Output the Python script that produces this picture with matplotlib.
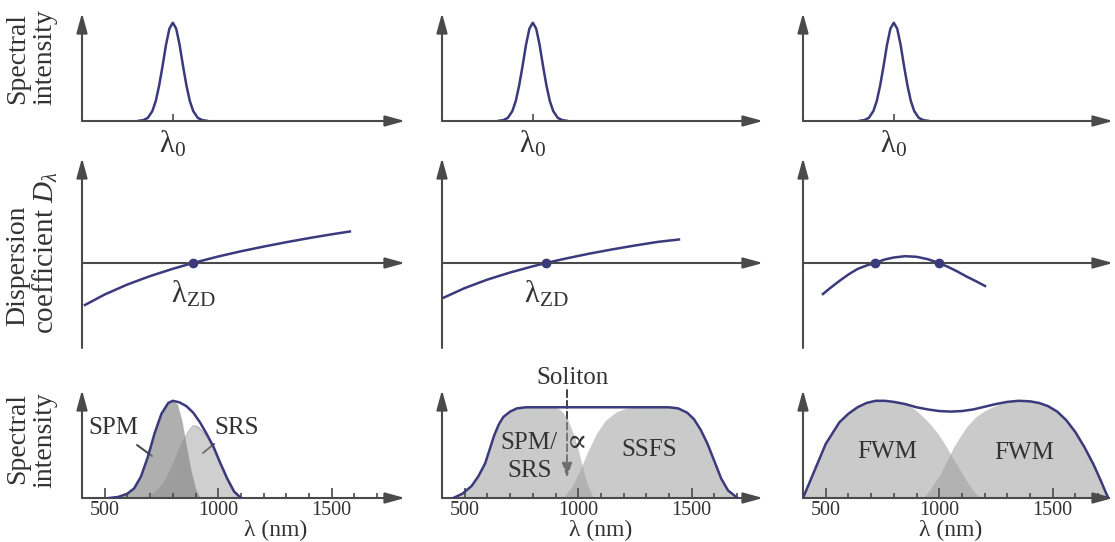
import matplotlib
matplotlib.use("Agg")
import matplotlib.pyplot as plt

plt.rcParams['font.family'] = ['Liberation Serif', 'DejaVu Serif']
plt.rcParams['mathtext.fontset'] = 'custom'
plt.rcParams['mathtext.rm'] = 'Liberation Serif'
plt.rcParams['mathtext.it'] = 'Liberation Serif:italic'
plt.rcParams['mathtext.bf'] = 'Liberation Serif:bold'

# ---------------- data (arbitrary intensity units) -------------
# top row: input pulse spectrum (same for all three columns)
lam_pulse = [650, 670, 690, 710, 725, 740, 755, 770, 785, 800, 815, 830, 845, 860, 875, 890, 910, 930, 950]
int_pulse = [0.002, 0.008, 0.029, 0.092, 0.185, 0.33, 0.51, 0.705, 0.855, 0.91, 0.855, 0.705, 0.51, 0.33, 0.185,
             0.092, 0.029, 0.008, 0.002]
lam0 = 800

# middle row: dispersion coefficient (arbitrary units)
lam_D1 = [413, 500, 600, 700, 800, 889, 1000, 1100, 1200, 1300, 1400, 1500, 1580]
D1 = [-42, -31.5, -21.5, -13.1, -5.8, 0, 6.5, 11.7, 16.4, 20.8, 24.9, 28.7, 31.5]
zd1 = [889]
lam_D2 = [404, 500, 600, 700, 800, 858, 950, 1050, 1150, 1250, 1350, 1444]
D2 = [-35, -25.1, -16.6, -9.5, -3.3, 0, 4.7, 9.4, 13.6, 17.5, 21.1, 23.5]
zd2 = [858]
lam_D3 = [488, 520, 560, 600, 640, 680, 717, 760, 800, 850, 900, 950, 999, 1040, 1080, 1120, 1160, 1202]
D3 = [-31, -25, -18, -11.5, -6, -2.5, 0, 3.5, 5.5, 6.8, 6.2, 3.8, 0, -4, -8.5, -13.5, -18, -23]
zd3 = [717, 999]

# bottom row, column 1
lam_env1 = [520, 560, 600, 630, 660, 690, 720, 750, 780, 800, 830, 860, 890, 920, 950, 980, 1010, 1040, 1070, 1100]
env1 = [0, 0.01, 0.04, 0.09, 0.20, 0.38, 0.60, 0.78, 0.88, 0.90, 0.885, 0.85, 0.79, 0.70, 0.59, 0.47, 0.32, 0.18, 0.06, 0]
lam_spm1 = [520, 560, 600, 630, 660, 690, 720, 750, 780, 800, 820, 840, 860, 880, 900, 920]
spm1 = [0, 0.01, 0.04, 0.09, 0.20, 0.38, 0.60, 0.78, 0.88, 0.90, 0.87, 0.72, 0.48, 0.26, 0.09, 0]
lam_srs1 = [680, 720, 760, 800, 840, 870, 890, 910, 930, 950, 980, 1010, 1040, 1070, 1100]
srs1 = [0, 0.04, 0.13, 0.30, 0.50, 0.62, 0.67, 0.66, 0.62, 0.57, 0.46, 0.31, 0.16, 0.05, 0]

# bottom row, column 2
lam_env2 = [450, 490, 530, 560, 590, 610, 630, 650, 670, 700, 730, 770, 1400, 1440, 1480, 1510, 1540, 1570, 1600, 1630, 1660, 1690, 1700]
env2 = [0, 0.04, 0.11, 0.20, 0.32, 0.45, 0.58, 0.68, 0.75, 0.80, 0.83, 0.84, 0.84, 0.83, 0.79, 0.73, 0.63, 0.50, 0.34, 0.18, 0.07, 0.02, 0]
lam_left2 = [450, 490, 530, 560, 590, 610, 630, 650, 670, 700, 730, 770, 905, 930, 955, 980, 1000, 1020, 1040, 1060, 1070]
left2 = [0, 0.04, 0.11, 0.20, 0.32, 0.45, 0.58, 0.68, 0.75, 0.80, 0.83, 0.84, 0.84, 0.80, 0.72, 0.59, 0.45, 0.28, 0.13, 0.03, 0]
lam_right2 = [934, 970, 1008, 1040, 1081, 1120, 1170, 1210, 1243, 1400, 1440, 1480, 1510, 1540, 1570, 1600, 1630, 1660, 1690, 1700]
right2 = [0, 0.10, 0.26, 0.42, 0.60, 0.72, 0.80, 0.83, 0.84, 0.84, 0.83, 0.79, 0.73, 0.63, 0.50, 0.34, 0.18, 0.07, 0.02, 0]

# bottom row, column 3
lam_env3 = [400, 420, 440, 460, 480, 500, 530, 560, 600, 640, 680, 720, 760, 800, 850, 900, 950, 1000, 1050,
            1100, 1150, 1200, 1250, 1300, 1350, 1400, 1440, 1480, 1520, 1560, 1600, 1640, 1680, 1710, 1730, 1745]
env3 = [0, 0.10, 0.20, 0.30, 0.40, 0.50, 0.60, 0.70, 0.78, 0.84, 0.88, 0.90, 0.90, 0.89, 0.87, 0.84, 0.82, 0.805, 0.80,
        0.805, 0.82, 0.845, 0.87, 0.89, 0.90, 0.895, 0.88, 0.85, 0.80, 0.72, 0.61, 0.47, 0.31, 0.17, 0.07, 0]
lam_fwmL = [400, 420, 440, 460, 480, 500, 530, 560, 600, 640, 680, 720, 760, 800, 850, 880, 910, 940, 970, 1000,
            1030, 1060, 1090, 1120, 1150, 1180]
fwmL = [0, 0.10, 0.20, 0.30, 0.40, 0.50, 0.60, 0.70, 0.78, 0.84, 0.88, 0.90, 0.90, 0.89, 0.87, 0.84, 0.79, 0.73, 0.66, 0.58,
        0.48, 0.37, 0.27, 0.16, 0.07, 0]
lam_fwmR = [930, 960, 1004, 1030, 1063, 1092, 1121, 1160, 1194, 1230, 1268, 1300, 1350, 1400, 1440, 1480, 1520, 1560,
            1600, 1640, 1680, 1710, 1730, 1745]
fwmR = [0, 0.08, 0.22, 0.33, 0.47, 0.57, 0.66, 0.75, 0.80, 0.84, 0.87, 0.89, 0.90, 0.895, 0.88, 0.85, 0.80, 0.72,
        0.61, 0.47, 0.31, 0.17, 0.07, 0]

major_ticks = [500, 1000, 1500]
minor_ticks = [600, 700, 800, 900, 1100, 1200, 1300, 1400, 1600, 1700]
major_labels = ['500', '1000', '1500']

# ---------------- styling ----------------
W, H = 1115, 542
AXC = '#4a4a4a'
LINEC = '#3b3a7c'
TXTC = '#333333'
PX_PER_NM = 0.227
col_x0 = [82, 442, 803]
col_tip = [405, 763, 1113]

fig = plt.figure(figsize=(W / 100, H / 100), dpi=100)
fig.patch.set_facecolor('white')


def px_axes(l, r, t, b):
    return fig.add_axes([l / W, 1 - b / H, (r - l) / W, (b - t) / H])


def arrow(ax, p0, p1):
    ax.annotate('', xy=p1, xytext=p0, xycoords='axes fraction', textcoords='axes fraction',
                arrowprops=dict(arrowstyle='-|>,head_length=1.2,head_width=0.33', mutation_scale=10,
                                color=AXC, lw=1.5, shrinkA=0, shrinkB=0), annotation_clip=False)


def clean(ax):
    for s in ax.spines.values():
        s.set_visible(False)
    ax.set_yticks([])
    ax.patch.set_alpha(0)


def ftext(x, y, s, size, **kw):
    fig.text(x / W, 1 - y / H, s, ha=kw.pop('ha', 'center'), va=kw.pop('va', 'center'),
             fontsize=size, color=TXTC, **kw)


rows = {'top': (13, 121), 'mid': (158, 348), 'bot': (390, 498)}

D_sets = [(lam_D1, D1, zd1), (lam_D2, D2, zd2), (lam_D3, D3, zd3)]
bottom_sets = [
    [(lam_srs1, srs1, '#a0a0a0', 0.5), (lam_spm1, spm1, '#7f7f7f', 0.62)],
    [(lam_left2, left2, '#a0a0a0', 0.55), (lam_right2, right2, '#a0a0a0', 0.55)],
    [(lam_fwmL, fwmL, '#a0a0a0', 0.55), (lam_fwmR, fwmR, '#a0a0a0', 0.55)],
]
envs = [(lam_env1, env1), (lam_env2, env2), (lam_env3, env3)]

for c in range(3):
    x0, tip = col_x0[c], col_tip[c]
    xmax = 400 + (tip - x0) / PX_PER_NM

    # --- top row
    t, b = rows['top']
    ax = px_axes(x0, tip, t, b)
    clean(ax)
    ax.set_xlim(400, xmax)
    ax.set_ylim(0, 1)
    ax.plot(lam_pulse, int_pulse, color=LINEC, lw=1.8, solid_joinstyle='round')
    ax.set_xticks([lam0], labels=['λ$_0$'])
    ax.tick_params(axis='x', direction='in', length=5, width=1.2, color=AXC, pad=6,
                   labelsize=22, labelcolor=TXTC)
    arrow(ax, (0, 0), (1, 0))
    arrow(ax, (0, 0), (0, 1))

    # --- middle row
    t, b = rows['mid']
    ax = px_axes(x0, tip, t, b)
    clean(ax)
    ax.set_xticks([])
    ax.set_xlim(400, xmax)
    ax.set_ylim(-(b - 263), 263 - t)
    lam_D, Dv, zds = D_sets[c]
    ax.plot(lam_D, Dv, color=LINEC, lw=1.8, zorder=3)
    ax.plot(zds, [0] * len(zds), 'o', color=LINEC, ms=6, zorder=4)
    y0 = (b - 263) / (b - t)
    arrow(ax, (0, y0), (1, y0))
    arrow(ax, (0, 0), (0, 1))
    if c < 2:
        ax.annotate('λ$_{\\mathrm{ZD}}$', xy=(zds[0], 0), xytext=(0, -31), textcoords='offset pixels',
                    ha='center', va='center', fontsize=22, color=TXTC)

    # --- bottom row
    t, b = rows['bot']
    ax = px_axes(x0, tip, t, b)
    clean(ax)
    ax.set_xlim(400, xmax)
    ax.set_ylim(0, 1)
    for lam, v, col, al in bottom_sets[c]:
        ax.fill_between(lam, 0, v, color=col, alpha=al, lw=0)
    if c == 0:
        ax.plot(lam_srs1, srs1, color='#8a8a8a', lw=0.8, alpha=0.6)
    lam_e, e = envs[c]
    ax.plot(lam_e, e, color=LINEC, lw=1.8, solid_joinstyle='round', zorder=4)
    ax.set_xticks(major_ticks, labels=major_labels)
    ax.set_xticks(minor_ticks, minor=True)
    ax.tick_params(axis='x', which='major', direction='in', length=7.5, width=1.2, color=AXC, pad=2.5,
                   labelsize=14.5, labelcolor=TXTC)
    ax.tick_params(axis='x', which='minor', direction='in', length=3.8, width=1.2, color=AXC)
    arrow(ax, (0, 0), (1, 0))
    arrow(ax, (0, 0), (0, 1))

# axis labels
ftext(18, 58, 'Spectral', 20, rotation=90)
ftext(45, 57, 'intensity', 20, rotation=90)
ftext(18, 266, 'Dispersion', 20, rotation=90)
ftext(45, 252, 'coefficient $D_\\lambda$', 21, rotation=90)
ftext(18, 438, 'Spectral', 20, rotation=90)
ftext(45, 440, 'intensity', 20, rotation=90)

for xc in (276, 601, 951):
    ftext(xc, 541, 'λ (nm)', 17, va='bottom')

# process labels
ftext(113, 428, 'SPM', 18)
ftext(237, 428, 'SRS', 18)
ftext(529, 443, 'SPM/', 18)
ftext(577, 443, '∝', 22)
ftext(530, 471, 'SRS', 18)
ftext(649, 450, 'SSFS', 18)
ftext(573, 378, 'Soliton', 18)
ftext(887, 452, 'FWM', 18)
ftext(1024, 453, 'FWM', 18)


def P(x, y):
    return (x, H - y)


ann = dict(xycoords='figure pixels', textcoords='figure pixels')
fig.axes[0].annotate('', xy=P(152, 456), xytext=P(137, 445),
                     arrowprops=dict(arrowstyle='-', color='#444444', lw=1.4, shrinkA=0, shrinkB=0), **ann)
fig.axes[0].annotate('', xy=P(203, 453), xytext=P(214, 444),
                     arrowprops=dict(arrowstyle='-', color='#444444', lw=1.4, shrinkA=0, shrinkB=0), **ann)
fig.axes[0].annotate('', xy=P(567, 478), xytext=P(567, 390),
                     arrowprops=dict(arrowstyle='-|>,head_length=0.9,head_width=0.3', mutation_scale=10,
                                     color='#333333', lw=1.3, ls=(0, (4, 2)), shrinkA=0, shrinkB=0), **ann)

fig.savefig('out.png', dpi=100, facecolor='white')
